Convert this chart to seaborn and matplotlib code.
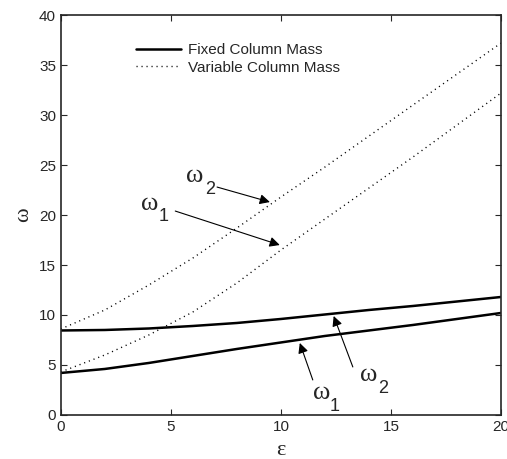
import numpy as np
import pandas as pd
import seaborn as sns
import matplotlib
matplotlib.use("Agg")
import matplotlib.pyplot as plt

# values
eps = [0, 2, 4, 6, 8, 10, 12, 14, 16, 18, 20]
fixed_w1 = [4.2, 4.6, 5.2, 5.9, 6.6, 7.25, 7.9, 8.45, 9.0, 9.6, 10.2]
fixed_w2 = [8.45, 8.5, 8.65, 8.9, 9.2, 9.6, 10.05, 10.5, 10.9, 11.35, 11.8]
var_w1 = [4.3, 6.0, 8.0, 10.3, 13.2, 16.5, 19.6, 22.7, 25.8, 29.0, 32.2]
var_w2 = [8.6, 10.5, 13.0, 15.7, 18.7, 21.8, 24.8, 27.9, 31.0, 34.1, 37.2]

sns.set_style("ticks")
plt.rcParams['font.family'] = ['Liberation Sans', 'DejaVu Sans']

fig = plt.figure(figsize=(5.07, 4.59), dpi=100)
ax = fig.add_axes([0.120, 0.096, 0.868, 0.871])

sns.lineplot(x=eps, y=fixed_w1, ax=ax, color='black', lw=1.8, label='Fixed Column Mass')
sns.lineplot(x=eps, y=fixed_w2, ax=ax, color='black', lw=1.8)
sns.lineplot(x=eps, y=var_w1, ax=ax, color='black', lw=1.0, linestyle=(0, (0.8, 2.8)),
             label='Variable Column Mass')
sns.lineplot(x=eps, y=var_w2, ax=ax, color='black', lw=1.0, linestyle=(0, (0.8, 2.8)))

ax.set_xlim(0, 20)
ax.set_ylim(0, 40)
ax.set_xticks([0, 5, 10, 15, 20])
ax.set_yticks(range(0, 41, 5))
ax.tick_params(direction='in', top=True, right=True, labelsize=11, length=4, width=0.8)
for s in ax.spines.values():
    s.set_linewidth(1.2)
ax.set_xlabel('ε', fontsize=16, family='Liberation Serif', labelpad=5)
ax.set_ylabel('ω', fontsize=16, family='Liberation Serif')

ax.legend(loc='upper left', bbox_to_anchor=(0.14, 0.965), frameon=False, fontsize=11,
          handlelength=2.9, handletextpad=0.5, labelspacing=0.25)

# omega labels: (subscript, symbol pos, subscript pos, arrow tail, arrow head)
labels = [
    ('2', (6.1, 23.9), (6.8, 22.6), (7.1, 22.8), (9.5, 21.3)),
    ('1', (4.05, 21.1), (4.65, 19.9), (5.2, 20.4), (9.95, 17.0)),
    ('1', (11.86, 2.2), (12.45, 0.8), (11.45, 3.5), (10.86, 7.2)),
    ('2', (14.0, 4.0), (14.65, 2.6), (13.27, 4.8), (12.4, 9.9)),
]
arrow = dict(arrowstyle='-|>', color='black', lw=0.8, mutation_scale=15, shrinkA=0, shrinkB=0)
for sub, wpos, spos, tail, head in labels:
    ax.text(*wpos, 'ω', fontsize=19, family='Liberation Serif', ha='center', va='center')
    ax.text(*spos, sub, fontsize=13, ha='center', va='center')
    ax.annotate('', xy=head, xytext=tail, arrowprops=arrow)

fig.savefig('out.png', dpi=100)
